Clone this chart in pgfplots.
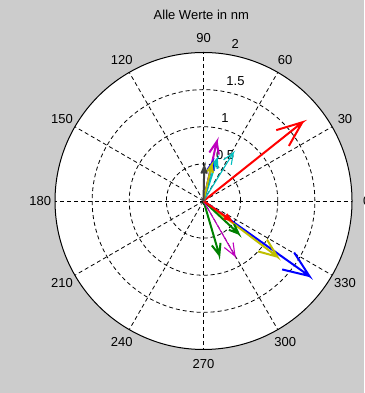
\documentclass[border=0pt]{standalone}
\usepackage{fontspec}
\setmainfont{Liberation Sans}
\usepackage{pgfplots}
\pgfplotsset{compat=1.18}
\definecolor{bggray}{RGB}{204,204,204}
\definecolor{mblue}{RGB}{0,0,255}
\definecolor{mgreen}{RGB}{0,128,0}
\definecolor{mred}{RGB}{255,0,0}
\definecolor{mcyan}{RGB}{0,191,191}
\definecolor{mmagenta}{RGB}{191,0,191}
\definecolor{myellow}{RGB}{191,191,0}
\definecolor{mgray}{RGB}{64,64,64}
\tikzset{
  griddash/.style={black, line width=0.8bp, dash pattern=on 4bp off 3bp},
  thick arrow/.style={line width=2bp},
  thin arrow/.style={line width=1.1bp}}
\begin{document}
\begin{tikzpicture}[font=\fontsize{13bp}{15bp}\selectfont]
\begin{axis}[x=74.25bp, y=74.25bp, xmin=-2, xmax=2, ymin=-2, ymax=2,
  hide axis, clip=false]
\coordinate (BL) at (axis cs:-2.741,-2.586);
\coordinate (TR) at (axis cs:2.162,2.707);
\fill[bggray] (axis cs:-2.741,-2.586) rectangle (axis cs:2.162,2.707);
\fill[white] (axis cs:0,0) circle[radius=2];
\draw[griddash] (axis cs:0,0) circle[radius=0.5];
\draw[griddash] (axis cs:0,0) circle[radius=1];
\draw[griddash] (axis cs:0,0) circle[radius=1.5];
\pgfplotsinvokeforeach{0,30,...,330}{
  \draw[griddash] (axis cs:0,0) -- (axis cs:{2*cos(#1)},{2*sin(#1)});
  \node[anchor=center, inner sep=0pt] at (axis cs:{2.2*cos(#1)},{2.2*sin(#1)}) {#1};
}
\pgfplotsinvokeforeach{0.5,1,1.5,2}{
  \node[anchor=base west, inner sep=0pt, xshift=7bp, yshift=3.3bp] at (axis cs:{(#1+0.025)*cos(82)},{(#1+0.025)*sin(82)}) {#1};
}
\node[anchor=base, inner sep=0pt] at (axis cs:-0.03,2.438) {Alle Werte in nm};
% arrows: shaft, tip, barb, tip, barb
\addplot[mblue, thick arrow] coordinates {(0,0) (1.425,-1.010) (1.2208,-0.694) (1.425,-1.010) (1.0592,-0.922)};
\addplot[myellow, thick arrow] coordinates {(0,0) (0.994,-0.750) (0.8552,-0.5205) (0.994,-0.750) (0.7352,-0.6795)};
\addplot[mgreen, thick arrow] coordinates {(0,0) (0.471,-0.438) (0.4118,-0.3127) (0.471,-0.438) (0.3418,-0.3881)};
\addplot[mgreen, thick arrow] coordinates {(0,0) (0.213,-0.727) (0.2286,-0.5646) (0.213,-0.727) (0.1122,-0.5986)};
\addplot[mmagenta, thin arrow] coordinates {(0,0) (0.424,-0.741) (0.3985,-0.5589) (0.424,-0.741) (0.2799,-0.6267)};
\addplot[mred, thick arrow] coordinates {(0,0) (0.364,-0.256) (0.3117,-0.1757) (0.364,-0.256) (0.2707,-0.2339)};
\addplot[mred, thick arrow] coordinates {(0,0) (1.331,1.060) (0.980,0.9545) (1.331,1.060) (1.1496,0.7415)};
\addplot[mmagenta, thick arrow] coordinates {(0,0) (0.178,0.799) (0.0785,0.6534) (0.178,0.799) (0.2063,0.625)};
\addplot[mcyan, thin arrow] coordinates {(0,0) (0.402,0.651) (0.2695,0.553) (0.402,0.651) (0.3737,0.4886)};
\addplot[mcyan, thick arrow] coordinates {(0,0) (0.18,0.56) (0.0992,0.4624) (0.18,0.56) (0.1888,0.4336)};
\addplot[mblue, thick arrow] coordinates {(0,0) (0.119,0.516) (0.0539,0.4223) (0.119,0.516) (0.1365,0.4033)};
\addplot[myellow, thick arrow] coordinates {(0,0) (0.11,0.485) (0.0492,0.3968) (0.11,0.485) (0.1268,0.3792)};
\addplot[mgray, thick arrow] coordinates {(0,0) (0.01,0.462) (-0.029,0.3704) (0.01,0.462) (0.045,0.3688)};
\draw[black, line width=1bp] (axis cs:0,0) circle[radius=2];
\end{axis}
\pgfresetboundingbox
\path[use as bounding box] (BL) rectangle (TR);
\end{tikzpicture}
\end{document}
